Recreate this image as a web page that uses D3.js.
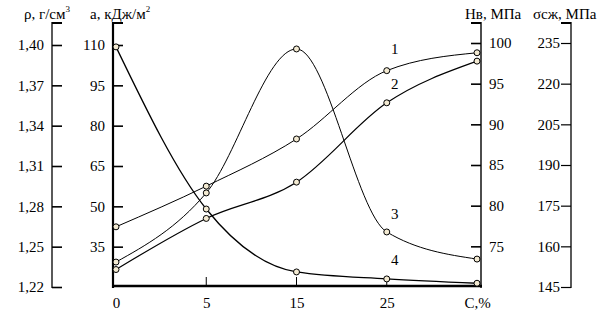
<!DOCTYPE html>
<html>
<head>
<meta charset="utf-8">
<script src="https://cdn.jsdelivr.net/npm/d3@7"></script>
<style>
  body { margin: 0; background: #fff; }
  svg text { font-family: "Liberation Serif", "DejaVu Serif", Times, serif; fill: #000; }
</style>
</head>
<body>
<div id="chart"></div>
<script>
// x categories (the last one carries the "C,%" axis name)
const xValues = [0, 5, 15, 25, 35];
const xTickLabels = ["0", "5", "15", "25", "C,%"];

// curve 1: Hв, MPa
const hbValues = [77.4, 82.4, 88.2, 96.6, 98.8];
// curve 2: density, g/cm3
const rhoValues = [1.233, 1.271, 1.298, 1.357, 1.388];
// curve 3: compressive strength, MPa
const sigmaValues = [154.2, 179.7, 232.8, 165.3, 155.3];
// curve 4: impact strength, kJ/m2
const aValues = [109.3, 49.0, 25.6, 23.0, 21.4];

// axis ticks
const rhoTicks = [1.22, 1.25, 1.28, 1.31, 1.34, 1.37, 1.40];
const aTicks = [35, 50, 65, 80, 95, 110];
const hbTicks = [75, 80, 85, 90, 95, 100];
const sigmaTicks = [145, 160, 175, 190, 205, 220, 235];

let width = 615, height = 317;
let yBottom = 287, yTop = 22;
let serif = '"Liberation Serif", "DejaVu Serif", Times, serif';

let svg = d3.select("#chart").append("svg")
  .attr("width", width)
  .attr("height", height)
  .attr("font-family", serif);

// scales
let x = d3.scalePoint().domain(xValues).range([116, 477]);
let yRho = d3.scaleLinear().domain([1.22, 1.40]).range([yBottom, 45]);
let yA = d3.scaleLinear().domain([20, 110]).range([yBottom, 45]);
let yHb = d3.scaleLinear().domain([70, 100]).range([yBottom, 43]);
let ySigma = d3.scaleLinear().domain([145, 235]).range([yBottom, 43]);

let comma = f => d => d3.format(f)(d).replace(".", ",");

function drawAxis(axis, xPos, lineWidth, capDir) {
  let g = svg.append("g")
    .attr("transform", "translate(" + xPos + ",0)")
    .call(axis)
    .attr("font-family", serif)
    .attr("font-size", 15);
  g.select(".domain").remove();
  g.selectAll(".tick line").attr("stroke", "#000").attr("stroke-width", 1.6);
  // own vertical line, up to the common top
  svg.append("line")
    .attr("x1", xPos).attr("x2", xPos)
    .attr("y1", yTop).attr("y2", yBottom + 1)
    .attr("stroke", "#000").attr("stroke-width", lineWidth);
  // top cap
  svg.append("line")
    .attr("x1", xPos).attr("x2", xPos + capDir * 10)
    .attr("y1", yTop + 1).attr("y2", yTop + 1)
    .attr("stroke", "#000").attr("stroke-width", 2);
  return g;
}

// left axes
drawAxis(d3.axisLeft(yRho).tickValues(rhoTicks).tickSize(-10).tickPadding(8).tickFormat(comma(".2f")), 52, 1.3, 1);
drawAxis(d3.axisLeft(yA).tickValues(aTicks).tickSize(-10).tickPadding(8).tickFormat(d3.format("d")), 113, 2.2, 1);
// right axes
drawAxis(d3.axisRight(yHb).tickValues(hbTicks).tickSize(-10).tickPadding(8).tickFormat(d3.format("d")), 481, 1.4, -1);
let sg = drawAxis(d3.axisLeft(ySigma).tickValues(sigmaTicks).tickSize(10).tickPadding(1).tickFormat(d3.format("d")), 571, 1.3, -1);
sg.selectAll(".tick line").attr("stroke-width", 1.2);

// x axis
let xg = svg.append("g")
  .attr("transform", "translate(0," + (yBottom - 1) + ")")
  .call(d3.axisBottom(x).tickSize(0).tickPadding(11).tickFormat((d, i) => xTickLabels[i]))
  .attr("font-family", serif)
  .attr("font-size", 15);
xg.select(".domain").remove();
svg.append("line")
  .attr("x1", 112).attr("x2", 482)
  .attr("y1", yBottom - 1).attr("y2", yBottom - 1)
  .attr("stroke", "#000").attr("stroke-width", 2.4);
svg.selectAll(".xtick").data(xValues.slice(1, 4)).enter().append("line")
  .attr("class", "xtick")
  .attr("x1", d => x(d)).attr("x2", d => x(d))
  .attr("y1", yBottom - 1).attr("y2", yBottom - 10)
  .attr("stroke", "#000").attr("stroke-width", 1);

// axis titles
let titleStyle = sel => sel.attr("font-size", 15);
let t1 = svg.append("text").attr("x", 24).attr("y", 19).call(titleStyle).text("ρ, г/см");
t1.append("tspan").attr("dy", -7).attr("font-size", 9).text("3");
let t2 = svg.append("text").attr("x", 90).attr("y", 19).call(titleStyle).text("а, кДж/м");
t2.append("tspan").attr("dy", -7).attr("font-size", 9).text("2");
svg.append("text").attr("x", 465).attr("y", 19).call(titleStyle).text("Нв, МПа");
svg.append("text").attr("x", 533).attr("y", 19).call(titleStyle).text("σсж, МПа");

// curves
let series = [
  { name: "1", values: hbValues, y: yHb, w: 1 },
  { name: "2", values: rhoValues, y: yRho, w: 1.2 },
  { name: "3", values: sigmaValues, y: ySigma, w: 1 },
  { name: "4", values: aValues, y: yA, w: 1.3 }
];

series.forEach(function(s) {
  let pts = s.values.map((v, i) => [x(xValues[i]), s.y(v)]);
  svg.append("path")
    .attr("d", d3.line().curve(d3.curveMonotoneX)(pts))
    .attr("fill", "none")
    .attr("stroke", "#000")
    .attr("stroke-width", s.w);
});

series.forEach(function(s) {
  svg.selectAll(".pt" + s.name).data(s.values).enter().append("circle")
    .attr("cx", (d, i) => x(xValues[i]))
    .attr("cy", d => s.y(d))
    .attr("r", 3)
    .attr("fill", "#f3ead2")
    .attr("stroke", "#000")
    .attr("stroke-width", 1);
});

// curve numbers, placed beside the 25% points
let labelOffsets = [-17, -14, -13, -14];
series.forEach(function(s, i) {
  svg.append("text")
    .attr("x", x(25) + 8)
    .attr("y", s.y(s.values[3]) + labelOffsets[i])
    .attr("text-anchor", "middle")
    .attr("font-size", 15)
    .text(s.name);
});
</script>
</body>
</html>
